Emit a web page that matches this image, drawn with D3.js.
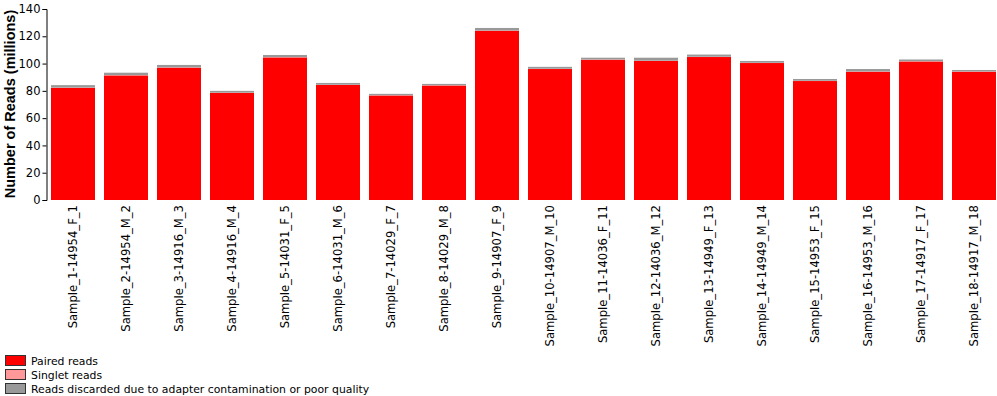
<!DOCTYPE html>
<html>
<head>
<meta charset="utf-8">
<script src="https://cdn.jsdelivr.net/npm/d3@7"></script>
<style>
  body { margin: 0; background: #fff; }
  svg { display: block; font-family: "DejaVu Sans", sans-serif; }
</style>
</head>
<body>
<svg id="chart"></svg>
<script>
var samples = ["Sample_1-14954_F_1", "Sample_2-14954_M_2", "Sample_3-14916_M_3", "Sample_4-14916_M_4",
  "Sample_5-14031_F_5", "Sample_6-14031_M_6", "Sample_7-14029_F_7", "Sample_8-14029_M_8",
  "Sample_9-14907_F_9", "Sample_10-14907_M_10", "Sample_11-14036_F_11", "Sample_12-14036_M_12",
  "Sample_13-14949_F_13", "Sample_14-14949_M_14", "Sample_15-14953_F_15", "Sample_16-14953_M_16",
  "Sample_17-14917_F_17", "Sample_18-14917_M_18"];
var paired    = [82.2, 91.3, 97.0, 78.5, 104.5, 84.3, 76.6, 83.9, 124.0, 96.0, 102.8, 101.9, 104.8, 100.4, 87.2, 94.0, 101.5, 94.0];
var singlet   = [0.2, 0.2, 0.2, 0.2, 0.2, 0.2, 0.2, 0.2, 0.2, 0.2, 0.2, 0.2, 0.2, 0.2, 0.2, 0.2, 0.2, 0.2];
var discarded = [1.8, 1.8, 1.8, 1.3, 1.6, 1.3, 1.0, 1.0, 1.9, 1.4, 1.3, 2.2, 1.6, 1.3, 1.3, 1.8, 1.3, 1.1];
var seriesNames = ["Paired reads", "Singlet reads", "Reads discarded due to adapter contamination or poor quality"];
var seriesColors = ["#ff0000", "#ff9999", "#999999"];
var yTicks = [0, 20, 40, 60, 80, 100, 120, 140];

var width = 997, height = 396;
var svg = d3.select("#chart").attr("width", width).attr("height", height);

var x = d3.scaleBand().domain(samples).range([46.5, 1000.5]).paddingInner(0.17).paddingOuter(0.085);
var y = d3.scaleLinear().domain([0, 140]).range([200, 9]);

var rows = samples.map(function (s, i) {
  return { sample: s, paired: paired[i], singlet: singlet[i], discarded: discarded[i] };
});
var stack = d3.stack().keys(["paired", "singlet", "discarded"]);
var layers = stack(rows);

svg.append("g").selectAll("g")
  .data(layers)
  .enter()
  .append("g")
  .attr("fill", function (d, i) { return seriesColors[i]; })
  .selectAll("rect")
  .data(function (d) { return d; })
  .enter()
  .append("rect")
  .attr("x", function (d) { return x(d.data.sample); })
  .attr("width", x.bandwidth())
  .attr("y", function (d) { return y(d[1]); })
  .attr("height", function (d) { return y(d[0]) - y(d[1]); });

// y axis
var yAxis = svg.append("g")
  .attr("transform", "translate(46.5,0)")
  .call(d3.axisLeft(y).tickValues(yTicks).tickSize(4).tickPadding(2));
yAxis.select(".domain").attr("stroke", "#000");
yAxis.selectAll("text").style("font-family", "'DejaVu Sans', sans-serif").style("font-size", "11.5px").attr("fill", "#000");

svg.append("text")
  .attr("transform", "translate(15,104) rotate(-90)")
  .attr("text-anchor", "middle")
  .style("font-family", "'Liberation Sans', Arial, sans-serif")
  .style("font-size", "14.5px")
  .style("font-weight", "bold")
  .text("Number of Reads (millions)");

// x labels
svg.append("g").selectAll("text")
  .data(samples)
  .enter()
  .append("text")
  .attr("transform", function (d) { return "translate(" + (x(d) + x.bandwidth() / 2) + ",205) rotate(-90)"; })
  .attr("text-anchor", "end")
  .attr("dy", "0.35em")
  .style("font-size", "11.6px")
  .text(function (d) { return d; });

// legend
var legend = svg.append("g").selectAll("g")
  .data(seriesNames)
  .enter()
  .append("g")
  .attr("transform", function (d, i) { return "translate(5," + (355 + i * 14) + ")"; });
legend.append("rect")
  .attr("x", 0.5).attr("y", 0.5)
  .attr("width", 20).attr("height", 10)
  .attr("fill", function (d, i) { return seriesColors[i]; })
  .attr("stroke", "#333");
legend.append("text")
  .attr("x", 26)
  .attr("y", 10)
  .style("font-size", "10.85px")
  .text(function (d) { return d; });
</script>
</body>
</html>
